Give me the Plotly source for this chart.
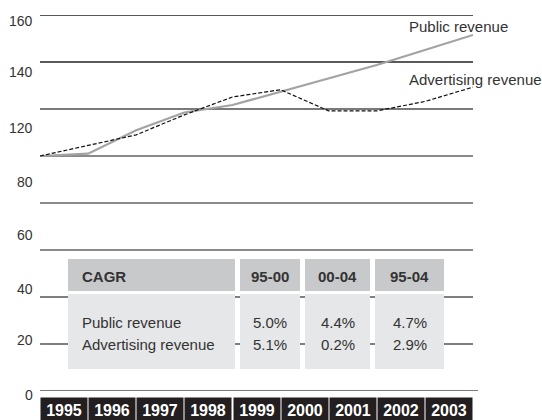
import plotly.graph_objects as go

# revenue index, 1995 = 100
years = [1995, 1996, 1997, 1998, 1999, 2000, 2001, 2002, 2003, 2004]
public_revenue = [100, 101, 111, 118.5, 121.7, 127.4, 132.8, 138.7, 145.1, 151.5]
advertising_revenue = [100, 104.5, 109, 117.5, 125.1, 128.2, 119.2, 119.2, 123.2, 129.3]

year_labels = ["1995", "1996", "1997", "1998", "1999", "2000", "2001", "2002", "2003"]
y_labels = ["160", "140", "120", "80", "60", "40", "20", "0"]
grid_values = [0, 20, 40, 60, 80, 100, 120, 140, 160]

# CAGR table
cagr_periods = ["95-00", "00-04", "95-04"]
cagr_rows = ["Public revenue", "Advertising revenue"]
cagr_public = ["5.0%", "4.4%", "4.7%"]
cagr_advertising = ["5.1%", "0.2%", "2.9%"]

FONT = "Liberation Sans, Arial, sans-serif"
TXT = "#333333"
Y_MAX = 160

# plot area in pixels
L, T, W, H = 40, 15, 433, 376


def px(x):
    return (x - L) / W


def py(y):
    return (T + H - y) / H


fig = go.Figure()

fig.add_trace(go.Scatter(
    x=years, y=public_revenue, mode="lines",
    line=dict(color="#a3a3a3", width=2.2),
    name="Public revenue",
))
fig.add_trace(go.Scatter(
    x=years, y=advertising_revenue, mode="lines",
    line=dict(color="#111111", width=1.2, dash="4px,2px"),
    name="Advertising revenue",
))

shapes = []
# gridlines, each with its own shade like the original
grid_style = {
    0: ("#7a7a7a", 2), 20: ("#555555", 1.3), 40: ("#555555", 1.3),
    60: ("#8a8a8a", 2), 80: ("#8a8a8a", 2), 100: ("#8a8a8a", 2),
    120: ("#7a7a7a", 2), 140: ("#222222", 1.3), 160: ("#222222", 1.3),
}
for g in grid_values:
    c, w = grid_style[g]
    shapes.append(dict(
        type="line", xref="paper", yref="y", layer="below",
        x0=0, x1=px(478) if g == 0 else 1, y0=g, y1=g,
        line=dict(color=c, width=w),
    ))

# table blocks
col_edges = [(68, 235), (240, 300), (305, 370), (375, 444)]
head_y = (259, 291)
body_y = (294, 369)
for x0, x1 in col_edges:
    shapes.append(dict(type="rect", xref="paper", yref="paper", layer="below",
                       x0=px(x0), x1=px(x1), y0=py(head_y[1]), y1=py(head_y[0]),
                       fillcolor="#c8c9cb", line=dict(width=0)))
    shapes.append(dict(type="rect", xref="paper", yref="paper", layer="below",
                       x0=px(x0), x1=px(x1), y0=py(body_y[1]), y1=py(body_y[0]),
                       fillcolor="#e6e7e8", line=dict(width=0)))

annotations = []

# y labels (sitting a bit off the gridlines, as in the original)
label_pos = [157.4, 135.9, 111.9, 89.1, 66.4, 43.6, 21.7, -1.7]
for lab, yv in zip(y_labels, label_pos):
    annotations.append(dict(
        text=lab, xref="paper", yref="paper", x=px(35), y=yv / Y_MAX,
        xanchor="right", yanchor="middle", showarrow=False,
        font=dict(family=FONT, size=14, color=TXT),
    ))

# year boxes under the axis
for i, lab in enumerate(year_labels):
    annotations.append(dict(
        text="<b>" + lab + "</b>", xref="x", yref="paper",
        x=years[i] + 0.5, y=0, yshift=-6, xanchor="center", yanchor="top",
        showarrow=False, bgcolor="#231f20", width=44, height=23, borderpad=1,
        font=dict(family=FONT, size=16, color="white"),
    ))

# series labels
annotations.append(dict(text="Public revenue", xref="paper", yref="paper",
                        x=px(407), y=py(27), xanchor="left", yanchor="middle",
                        showarrow=False, font=dict(family=FONT, size=15, color=TXT)))
annotations.append(dict(text="Advertising revenue", xref="paper", yref="paper",
                        x=px(407), y=py(79.5), xanchor="left", yanchor="middle",
                        showarrow=False, font=dict(family=FONT, size=15, color=TXT)))

# table text
head_mid = (head_y[0] + head_y[1]) / 2 + 1.5
annotations.append(dict(text="<b>CAGR</b>", xref="paper", yref="paper",
                        x=px(80), y=py(head_mid), xanchor="left", yanchor="middle",
                        showarrow=False, font=dict(family=FONT, size=15, color=TXT)))
row_y = [322.5, 344]
for lab, ry in zip(cagr_rows, row_y):
    annotations.append(dict(text=lab, xref="paper", yref="paper",
                            x=px(80), y=py(ry), xanchor="left", yanchor="middle",
                            showarrow=False, font=dict(family=FONT, size=15, color=TXT)))
for j, per in enumerate(cagr_periods):
    x0, x1 = col_edges[j + 1]
    cx = px((x0 + x1) / 2)
    annotations.append(dict(text="<b>" + per + "</b>", xref="paper", yref="paper",
                            x=cx, y=py(head_mid), xanchor="center", yanchor="middle",
                            showarrow=False, font=dict(family=FONT, size=15, color=TXT)))
    for vals, ry in zip([cagr_public, cagr_advertising], row_y):
        annotations.append(dict(text=vals[j], xref="paper", yref="paper",
                                x=cx, y=py(ry), xanchor="center", yanchor="middle",
                                showarrow=False, font=dict(family=FONT, size=15, color=TXT)))

fig.update_layout(
    width=542, height=420,
    margin=dict(l=L, r=542 - L - W, t=T, b=420 - T - H),
    paper_bgcolor="white", plot_bgcolor="white",
    showlegend=False,
    xaxis=dict(range=[1995, 2004], showgrid=False, zeroline=False,
               showticklabels=False, ticks="", fixedrange=True),
    yaxis=dict(range=[0, Y_MAX], showgrid=False, zeroline=False,
               showticklabels=False, ticks="", fixedrange=True),
    shapes=shapes,
    annotations=annotations,
    font=dict(family=FONT, color=TXT),
)

# drop the browser's default page margin so the figure sits at 0,0
fig.write_html("out.html", config={"displayModeBar": False},
               post_script="document.body.style.margin='0';")
